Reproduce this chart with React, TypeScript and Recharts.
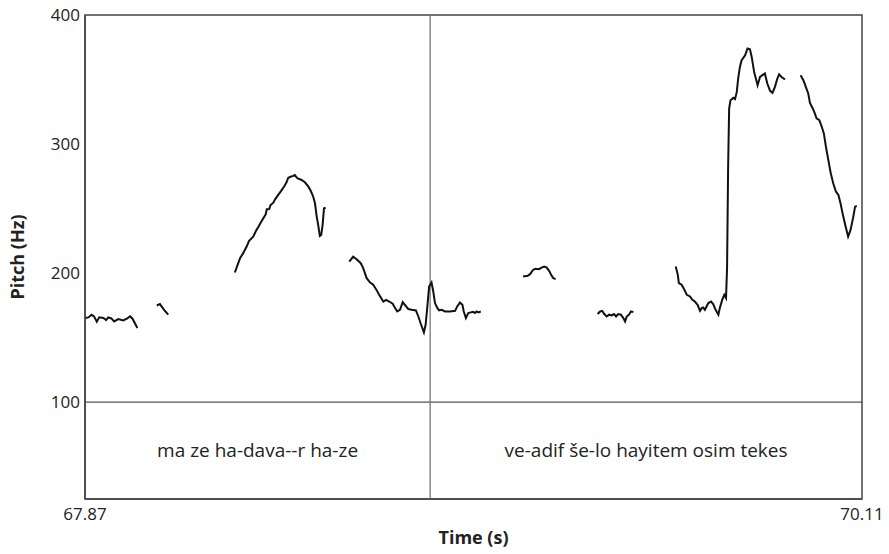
import React from 'react';
import { LineChart, Line, XAxis, YAxis, ReferenceLine, ReferenceArea, Label } from 'recharts';

// Time axis range (s) and boundary between the two text intervals
const timeStart = 67.87;
const timeEnd = 70.11;
const boundaryTime = 68.865;
const pitchMin = 25;
const pitchMax = 400;
const yTicks = [100, 200, 300, 400];
const xTicks = [67.87, 70.11];
const tierBoundaryHz = 100;
const tierTexts = ['ma ze ha-dava--r ha-ze', 've-adif še-lo hayitem osim tekes'];

// Pitch track segments (time s, pitch Hz)
const seg1T = [67.87, 67.88, 67.889, 67.896, 67.904, 67.911, 67.923, 67.931, 67.937, 67.946, 67.954, 67.966, 67.98, 67.992, 68.0, 68.007, 68.021];
const seg1Hz = [165.2, 165.7, 167.7, 166.5, 162.4, 165.8, 165.2, 163.6, 165.7, 164.9, 162.6, 164.4, 163.4, 165.0, 166.6, 164.7, 157.5];

const seg2T = [68.077, 68.086, 68.098, 68.11];
const seg2Hz = [174.9, 176.0, 171.6, 167.8];

const seg3T = [68.302, 68.31, 68.317, 68.326, 68.336, 68.343, 68.355, 68.362, 68.37, 68.381, 68.391, 68.394, 68.401, 68.405, 68.413, 68.418, 68.427, 68.435, 68.445, 68.451, 68.456, 68.463, 68.47, 68.475, 68.482, 68.493, 68.504, 68.514, 68.521, 68.528, 68.533, 68.538, 68.543, 68.547, 68.551, 68.555, 68.559, 68.564];
const seg3Hz = [200.5, 206.4, 211.6, 215.5, 220.6, 225.0, 228.3, 232.2, 236.0, 241.2, 245.6, 249.5, 249.7, 252.8, 254.6, 257.2, 260.6, 263.6, 267.5, 270.4, 273.9, 274.7, 275.3, 276.0, 273.5, 272.4, 270.4, 267.0, 263.6, 259.2, 254.1, 243.8, 236.0, 228.8, 229.6, 237.4, 250.3, 250.7];

const seg4T = [68.632, 68.643, 68.653, 68.665, 68.672, 68.682, 68.692, 68.701, 68.709, 68.718, 68.73, 68.738, 68.747, 68.757, 68.764, 68.77, 68.778, 68.786, 68.792, 68.802, 68.812, 68.824, 68.831, 68.838, 68.847, 68.852, 68.857, 68.862, 68.869, 68.874, 68.879, 68.886, 68.891, 68.898, 68.908, 68.922, 68.937, 68.943, 68.951, 68.958, 68.962, 68.968, 68.975, 68.982, 68.989, 68.994, 68.999, 69.004, 69.011];
const seg4Hz = [209.0, 212.8, 210.8, 207.7, 203.9, 196.1, 192.7, 191.0, 187.6, 183.2, 178.0, 179.3, 178.0, 176.3, 172.9, 170.3, 171.6, 177.6, 175.5, 172.2, 171.6, 171.1, 166.4, 160.8, 154.1, 160.0, 174.2, 189.6, 192.7, 185.8, 176.8, 172.9, 171.1, 171.6, 170.3, 170.3, 170.8, 174.2, 177.3, 175.5, 170.3, 165.2, 169.1, 169.6, 170.0, 169.1, 170.3, 169.6, 170.3];

const seg5T = [69.133, 69.146, 69.153, 69.162, 69.169, 69.179, 69.186, 69.194, 69.201, 69.208, 69.215, 69.22, 69.227];
const seg5Hz = [197.4, 197.9, 199.2, 202.6, 203.3, 203.1, 204.3, 205.1, 204.3, 201.8, 198.1, 196.1, 195.4];

const seg6T = [69.348, 69.355, 69.361, 69.367, 69.374, 69.381, 69.388, 69.395, 69.401, 69.407, 69.415, 69.422, 69.427, 69.432, 69.438, 69.444, 69.451];
const seg6Hz = [168.3, 170.3, 170.8, 168.3, 166.4, 167.8, 167.2, 168.3, 166.4, 168.3, 167.8, 165.2, 162.6, 166.4, 167.8, 170.3, 169.8];

const seg7T = [69.573, 69.579, 69.582, 69.59, 69.598, 69.605, 69.614, 69.621, 69.628, 69.636, 69.643, 69.648, 69.652, 69.657, 69.667, 69.675, 69.681, 69.688, 69.696, 69.7, 69.707, 69.713, 69.718, 69.721, 69.724, 69.727, 69.731, 69.739, 69.744, 69.749, 69.753, 69.758, 69.763, 69.773, 69.78, 69.787, 69.792, 69.799, 69.809, 69.816, 69.83, 69.837, 69.845, 69.852, 69.859, 69.866, 69.871, 69.878, 69.888];
const seg7Hz = [205.1, 198.7, 192.3, 191.0, 187.1, 183.2, 181.9, 179.3, 178.0, 175.5, 170.8, 172.9, 173.4, 171.6, 176.8, 178.0, 176.0, 171.6, 167.8, 172.9, 179.3, 183.2, 180.7, 203.9, 281.2, 327.6, 334.0, 335.8, 334.8, 340.4, 350.8, 359.8, 365.0, 368.8, 374.0, 373.5, 367.5, 355.9, 345.6, 352.0, 354.7, 346.9, 341.2, 339.7, 344.3, 350.8, 354.1, 352.0, 350.0];

const seg8T = [69.933, 69.941, 69.948, 69.955, 69.96, 69.968, 69.974, 69.979, 69.987, 69.994, 70.0, 70.006, 70.013, 70.02, 70.027, 70.035, 70.042, 70.048, 70.056, 70.064, 70.07, 70.077, 70.085, 70.09, 70.095];
const seg8Hz = [353.4, 349.5, 344.3, 339.2, 331.9, 327.6, 323.7, 319.9, 318.6, 313.4, 308.3, 297.9, 287.6, 277.3, 269.6, 263.1, 260.6, 254.1, 243.8, 234.8, 228.3, 233.5, 243.8, 251.5, 252.0];

const segments: [number[], number[]][] = [
  [seg1T, seg1Hz], [seg2T, seg2Hz], [seg3T, seg3Hz], [seg4T, seg4Hz],
  [seg5T, seg5Hz], [seg6T, seg6Hz], [seg7T, seg7Hz], [seg8T, seg8Hz],
];

const data: { t: number; hz: number | null }[] = [];
segments.forEach(([ts, hs], i) => {
  ts.forEach((t, j) => data.push({ t, hz: hs[j] }));
  if (i < segments.length - 1) {
    const next = segments[i + 1][0][0];
    data.push({ t: (ts[ts.length - 1] + next) / 2, hz: null });
  }
});

const FONT = '"Open Sans", sans-serif';
const frame = '#444';

export default function App() {
  return (
    <div style={{ position: 'absolute', left: 0, top: 0, width: 889, height: 554, background: '#fff' }}>
      <LineChart width={889} height={554} data={data} margin={{ top: 15, right: 27, bottom: 25, left: 0 }}>
        <XAxis
          type="number"
          dataKey="t"
          domain={[timeStart, timeEnd]}
          ticks={xTicks}
          tickFormatter={(v: number) => v.toFixed(2)}
          allowDataOverflow
          axisLine={{ stroke: frame, strokeWidth: 1.5 }}
          tickLine={false}
          tickSize={0}
          tickMargin={9}
          height={30}
          tick={{ fill: '#222', fontSize: 17, fontFamily: FONT }}
        >
          <Label value="Time (s)" position="bottom" offset={2} style={{ fill: '#222', fontSize: 18, fontWeight: 700, fontFamily: FONT }} />
        </XAxis>
        <YAxis
          type="number"
          domain={[pitchMin, pitchMax]}
          ticks={yTicks}
          allowDataOverflow
          axisLine={{ stroke: frame, strokeWidth: 1.5 }}
          tickLine={false}
          tickSize={0}
          tickMargin={5}
          width={85}
          tick={{ fill: '#222', fontSize: 17, fontFamily: FONT }}
        >
          <Label value="Pitch (Hz)" angle={-90} position="center" dx={-25} style={{ fill: '#222', fontSize: 18, fontWeight: 700, fontFamily: FONT, textAnchor: 'middle' }} />
        </YAxis>
        <ReferenceArea x1={timeStart} x2={timeEnd} y1={pitchMin} y2={pitchMax} fill="none" stroke={frame} strokeWidth={1.5} />
        <ReferenceArea
          x1={timeStart}
          x2={boundaryTime}
          y1={pitchMin}
          y2={tierBoundaryHz}
          fill="none"
          stroke="none"
          label={{ value: tierTexts[0], position: 'center', fill: '#222', fontSize: 19, fontFamily: FONT }}
        />
        <ReferenceArea
          x1={boundaryTime}
          x2={timeEnd}
          y1={pitchMin}
          y2={tierBoundaryHz}
          fill="none"
          stroke="none"
          label={{ value: tierTexts[1], position: 'center', fill: '#222', fontSize: 19, fontFamily: FONT }}
        />
        <ReferenceLine y={tierBoundaryHz} stroke="#555" strokeWidth={1.3} />
        <ReferenceLine x={boundaryTime} stroke="#777" strokeWidth={1.3} />
        <Line
          type="linear"
          dataKey="hz"
          stroke="#111"
          strokeWidth={2}
          dot={false}
          connectNulls={false}
          isAnimationActive={false}
        />
      </LineChart>
    </div>
  );
}
